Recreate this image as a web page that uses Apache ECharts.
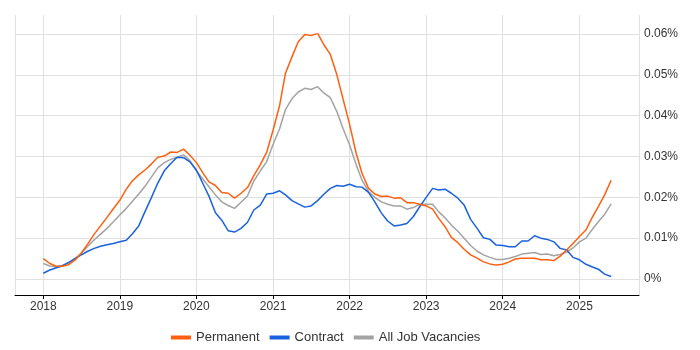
<!DOCTYPE html>
<html>
<head>
<meta charset="utf-8">
<script src="https://cdn.jsdelivr.net/npm/echarts@6/dist/echarts.min.js"></script>
<style>html,body{margin:0;padding:0;background:#fff;}#c{width:700px;height:350px;}</style>
</head>
<body>
<div id="c"></div>
<script>
// Monthly timeline starting January 2018 (90 months, to June 2025)
const startYear = 2018;
const monthCount = 90;
const yearTicks = ['2018','2019','2020','2021','2022','2023','2024','2025'];
const yTicks = [0, 0.01, 0.02, 0.03, 0.04, 0.05, 0.06];

const permanent = [
0.0050,0.0038,0.0032,0.0031,0.0035,0.0046,0.0063,0.0086,0.0110,0.0130,0.0151,0.0172,
0.0193,0.0220,0.0240,0.0255,0.0267,0.0282,0.0298,0.0301,0.0311,0.0310,0.0318,0.0303,
0.0285,0.0260,0.0238,0.0229,0.0212,0.0210,0.0198,0.0210,0.0224,0.0253,0.0280,0.0310,
0.0365,0.0425,0.0504,0.0544,0.0581,0.0599,0.0596,0.0602,0.0573,0.0550,0.0500,0.0440,
0.0378,0.0308,0.0259,0.0222,0.0208,0.0202,0.0203,0.0198,0.0199,0.0187,0.0187,0.0183,
0.0179,0.0171,0.0149,0.0128,0.0102,0.0089,0.0073,0.0059,0.0051,0.0042,0.0037,0.0034,
0.0036,0.0042,0.0049,0.0051,0.0051,0.0051,0.0047,0.0047,0.0045,0.0056,0.0071,0.0087,
0.0104,0.0120,0.0149,0.0177,0.0206,0.0242
];
const contract = [
0.0014,0.0022,0.0027,0.0032,0.0040,0.0050,0.0059,0.0068,0.0075,0.0080,0.0084,0.0087,
0.0091,0.0095,0.0110,0.0130,0.0165,0.0200,0.0235,0.0265,0.0283,0.0298,0.0297,0.0287,
0.0267,0.0234,0.0203,0.0162,0.0144,0.0118,0.0115,0.0124,0.0139,0.0169,0.0181,0.0208,
0.0210,0.0216,0.0206,0.0192,0.0184,0.0176,0.0179,0.0192,0.0208,0.0222,0.0229,0.0227,
0.0232,0.0226,0.0225,0.0212,0.0189,0.0162,0.0142,0.0130,0.0132,0.0136,0.0153,0.0177,
0.0200,0.0222,0.0218,0.0220,0.0210,0.0198,0.0181,0.0146,0.0124,0.0101,0.0097,0.0083,
0.0082,0.0079,0.0079,0.0093,0.0093,0.0106,0.0100,0.0097,0.0091,0.0075,0.0071,0.0053,
0.0047,0.0036,0.0030,0.0024,0.0012,0.0006
];
const allJobs = [
0.0038,0.0032,0.0030,0.0033,0.0040,0.0050,0.0063,0.0080,0.0096,0.0110,0.0124,0.0140,
0.0157,0.0173,0.0190,0.0208,0.0227,0.0250,0.0272,0.0285,0.0293,0.0298,0.0304,0.0290,
0.0265,0.0245,0.0226,0.0206,0.0189,0.0180,0.0173,0.0188,0.0204,0.0240,0.0265,0.0287,
0.0330,0.0368,0.0415,0.0442,0.0458,0.0467,0.0464,0.0471,0.0455,0.0444,0.0410,0.0368,
0.0328,0.0280,0.0242,0.0214,0.0200,0.0189,0.0183,0.0179,0.0179,0.0171,0.0175,0.0183,
0.0183,0.0183,0.0165,0.0150,0.0132,0.0117,0.0100,0.0082,0.0068,0.0059,0.0053,0.0048,
0.0048,0.0051,0.0055,0.0061,0.0063,0.0065,0.0060,0.0061,0.0057,0.0060,0.0066,0.0076,
0.0091,0.0100,0.0120,0.0140,0.0158,0.0184
];

const months = [];
for (let i = 0; i < monthCount; i++) {
  const y = startYear + Math.floor(i / 12);
  const m = (i % 12) + 1;
  months.push(y + '-' + (m < 10 ? '0' + m : m) + '-01');
}
function pairs(vals) { return vals.map((v, i) => [months[i], v]); }

const DAY = 86400000;
const xMin = Date.UTC(2018, 0, 1) - 135 * DAY;
const xMax = Date.UTC(2025, 0, 1) + 284 * DAY;
const FONT = 'Liberation Sans, Arial, sans-serif';

const chart = echarts.init(document.getElementById('c'), null, {renderer: 'canvas'});
chart.setOption({
  animation: false,
  textStyle: {fontFamily: FONT},
  color: ['#ff5f0f', '#1a62dd', '#a3a3a3'],
  legend: {
    data: ['Permanent', 'Contract', 'All Job Vacancies'],
    left: 166,
    top: 326,
    icon: 'rect',
    itemWidth: 20,
    itemHeight: 4,
    itemGap: 10,
    textStyle: {fontSize: 13, color: '#333', fontFamily: FONT}
  },
  grid: [
    {left: 15, right: 61, top: 34, height: 245},
    {left: 15, right: 61, top: 15, height: 280}
  ],
  xAxis: [
    {gridIndex: 0, type: 'time', min: xMin, max: xMax, show: false},
    {gridIndex: 1, type: 'time', min: xMin, max: xMax,
     minInterval: 365 * DAY, maxInterval: 366 * DAY,
     axisLine: {show: true, lineStyle: {color: '#000', width: 1}},
     axisTick: {show: true, length: 4, lineStyle: {color: '#000'}},
     splitLine: {show: true, lineStyle: {color: '#e0e0e0', width: 1}},
     axisLabel: {fontSize: 12, color: '#333', margin: 6, fontFamily: FONT,
       formatter: function (v) { const y = String(new Date(v).getUTCFullYear()); return yearTicks.indexOf(y) >= 0 ? y : ''; }}
    }
  ],
  yAxis: [
    {gridIndex: 0, type: 'value', position: 'right', min: yTicks[0], max: yTicks[yTicks.length - 1], interval: 0.01,
     axisLine: {show: false}, axisTick: {show: false},
     splitLine: {show: true, lineStyle: {color: '#e0e0e0', width: 1}},
     axisLabel: {fontSize: 12, color: '#333', margin: 5, fontFamily: FONT,
       formatter: function (v) { return v === 0 ? '0%' : v.toFixed(2) + '%'; }}
    },
    {gridIndex: 1, type: 'value', min: 0, max: 1, show: false}
  ],
  series: [
    {name: 'Permanent', type: 'line', xAxisIndex: 0, yAxisIndex: 0, data: pairs(permanent), showSymbol: false, lineStyle: {width: 1.5}, z: 3},
    {name: 'Contract', type: 'line', xAxisIndex: 0, yAxisIndex: 0, data: pairs(contract), showSymbol: false, lineStyle: {width: 1.5}, z: 2},
    {name: 'All Job Vacancies', type: 'line', xAxisIndex: 0, yAxisIndex: 0, data: pairs(allJobs), showSymbol: false, lineStyle: {width: 1.5}, z: 1}
  ]
});
</script>
</body>
</html>
